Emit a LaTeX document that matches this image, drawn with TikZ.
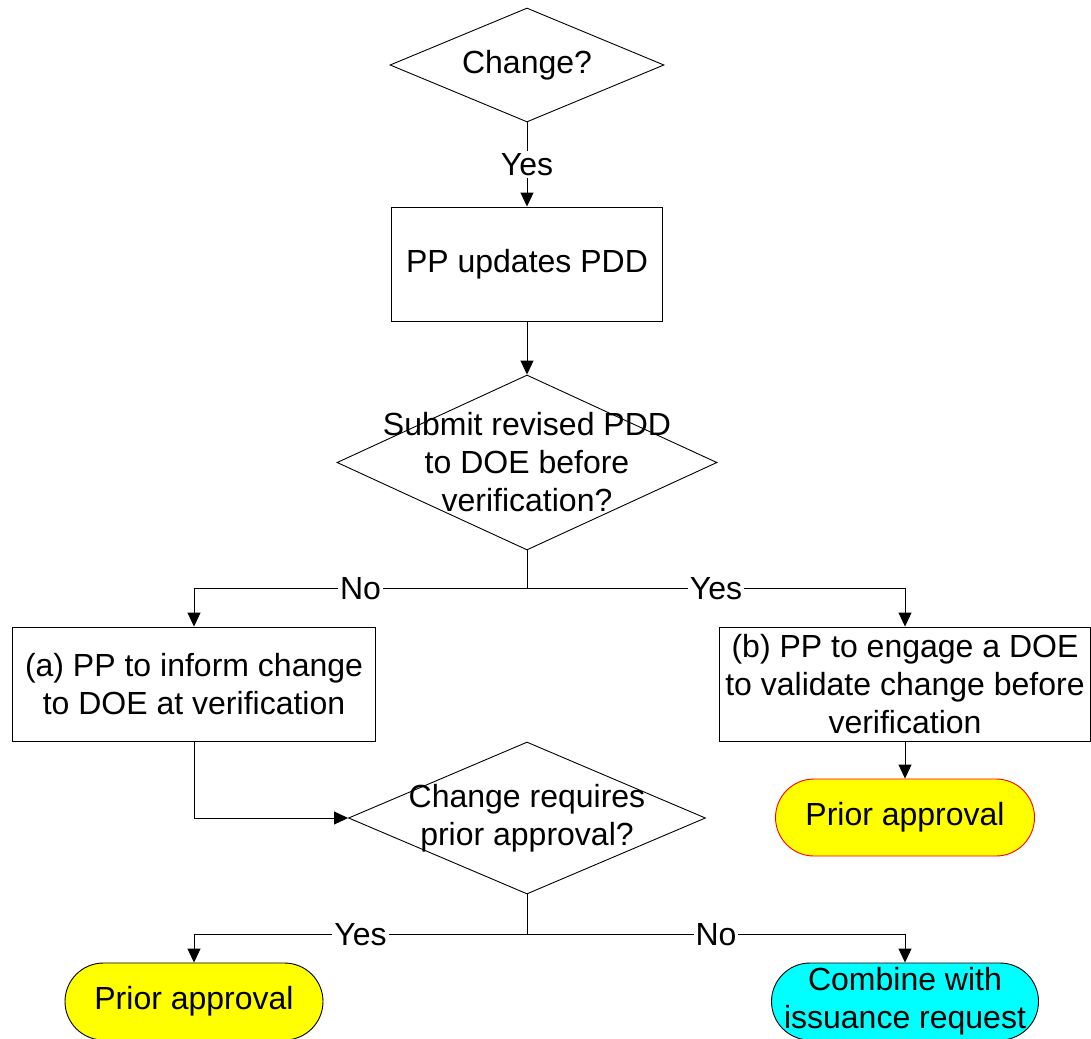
\documentclass[tikz,border=0pt]{standalone}
\usepackage{fontspec}
\setmainfont{Liberation Sans}
\usetikzlibrary{shapes.geometric,arrows.meta}
\definecolor{fyellow}{RGB}{255,255,0}
\definecolor{fcyan}{RGB}{0,255,255}
\definecolor{fred}{RGB}{255,0,0}
\begin{document}
\begin{tikzpicture}[x=1pt,y=-1pt,
  every node/.style={font=\fontsize{32}{38}\selectfont, align=center},
  conn/.style={line width=0.9pt, draw=black},
  arr/.style={conn,-{Triangle[length=14pt,width=13pt]}},
  dec/.style={draw, line width=0.9pt, diamond, inner sep=0pt},
  proc/.style={draw, line width=0.9pt, rectangle, inner sep=0pt, minimum height=114pt},
  term/.style={draw, line width=0.9pt, rectangle, rounded corners=38.5pt, inner sep=0pt, minimum height=77pt},
  lab/.style={fill=white, inner sep=2pt}
]
\useasboundingbox[fill=white] (0,0) rectangle (1091,1038);

% decisions and steps
\node[dec, minimum width=274pt, minimum height=114pt] (d1) at (527,65) {};
\node (d1t) at (d1.center) {Change?};
\node[proc, minimum width=271pt] (b1) at (527,264) {PP updates PDD};
\node[dec, minimum width=380pt, minimum height=175pt] (d2) at (527,462.5) {};
\node (d2t) at (d2.center) {Submit revised PDD\\to DOE before\\verification?};
\node[proc, minimum width=363pt] (ba) at (194,684) {(a) PP to inform change\\to DOE at verification};
\node[proc, minimum width=371pt] (bb) at (905,684) {(b) PP to engage a DOE\\to validate change before\\verification};
\node[dec, minimum width=357pt, minimum height=152pt] (d3) at (527,818) {};
\node (d3t) at (d3.center) {Change requires\\prior approval?};
\node[term, fill=fyellow, draw=fred, minimum width=259pt] (t1) at (905,817.5) {Prior approval};
\node[term, fill=fyellow, minimum width=258pt] (t2) at (194,1001.5) {Prior approval};
\node[term, fill=fcyan, minimum width=267pt] (t3) at (905,1001.5) {Combine with\\issuance request};

% connectors
\draw[arr] (d1.south) -- node[lab]{Yes} (b1.north);
\draw[arr] (b1.south) -- (d2.north);
\coordinate (j1) at ([yshift=-38pt]d2.south);
\draw[conn] (d2.south) -- (j1);
\draw[arr] (j1) -| node[lab,pos=0.25]{No} (ba.north);
\draw[arr] (j1) -| node[lab,pos=0.25]{Yes} (bb.north);
\draw[arr] (ba.south) |- (d3.west);
\draw[arr] (bb.south) -- (t1.north);
\coordinate (j2) at ([yshift=-40pt]d3.south);
\draw[conn] (d3.south) -- (j2);
\draw[arr] (j2) -| node[lab,pos=0.25]{Yes} (t2.north);
\draw[arr] (j2) -| node[lab,pos=0.25]{No} (t3.north);
\end{tikzpicture}
\end{document}
